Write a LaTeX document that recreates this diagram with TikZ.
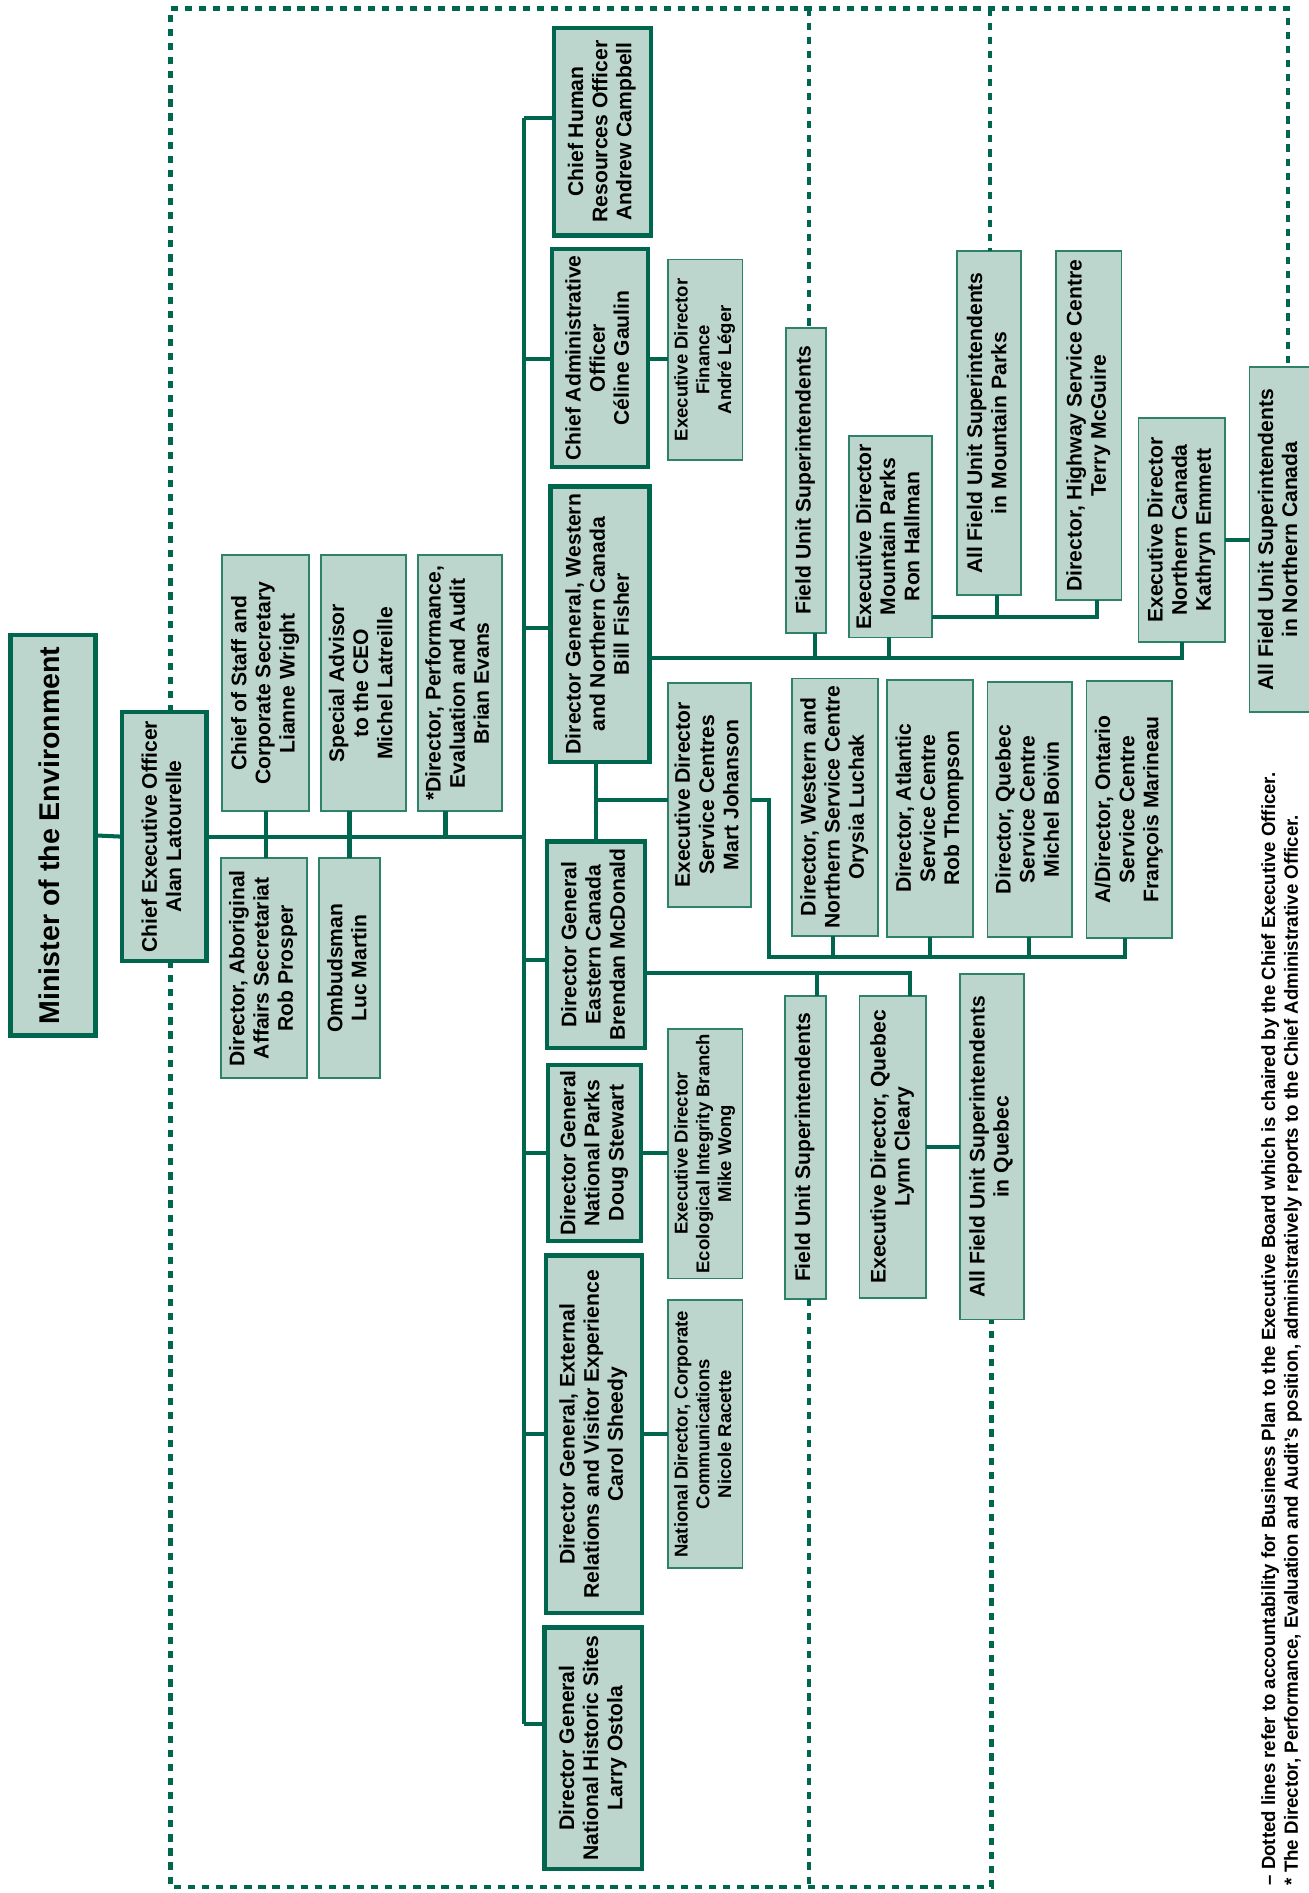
\documentclass[tikz,border=0pt]{standalone}
\usepackage{fontspec}
\setmainfont{Liberation Sans}
\usepackage{graphicx}
\definecolor{pgreen}{RGB}{0,102,77}
\definecolor{pfill}{RGB}{189,214,205}
\definecolor{pthin}{RGB}{46,130,105}
\newcommand{\vt}[1]{\rotatebox{90}{\begin{tabular}{@{}c@{}}#1\end{tabular}}}
\newcommand{\bx}[7]{\node[#2, minimum width={(#5-#3)*0.6pt}, minimum height={(#6-#4)*0.6pt}] (#1) at ({(#3+#5)/2},{(#4+#6)/2}) {\vt{#7}};}
\tikzset{
  boxbase/.style={draw=pgreen, fill=pfill, inner sep=0pt, outer sep=0pt, font=\fontsize{10.5}{12}\selectfont\bfseries},
  thickb/.style={boxbase, line width=2.1pt},
  thinb/.style={boxbase, draw=pthin, line width=0.9pt},
  smallb/.style={thinb, font=\fontsize{9.2}{10.8}\selectfont\bfseries},
  bigb/.style={thickb, line width=2.4pt, font=\fontsize{14.2}{16}\selectfont\bfseries},
  conn/.style={draw=pgreen, line width=2pt, line join=miter},
  dotl/.style={draw=pgreen, line width=2.3pt, dash pattern=on 3.6pt off 3.4pt}
}
\begin{document}
\begin{tikzpicture}[x=0.6pt,y=-0.6pt]
\useasboundingbox (0,0) rectangle (1084,1568);
% boxes
\bx{min}{bigb}{9}{526}{79}{858}{Minister of the Environment}
\bx{ceo}{thickb}{101}{590}{171}{796}{Chief Executive Officer\\Alan Latourelle}
\bx{cos}{thinb}{184}{460}{256}{672}{Chief of Staff and\\Corporate Secretary\\Lianne Wright}
\bx{sa}{thinb}{266}{460}{336}{672}{Special Advisor\\to the CEO\\Michel Latreille}
\bx{dpea}{thinb}{346}{460}{416}{672}{*Director, Performance,\\Evaluation and Audit\\Brian Evans}
\bx{abo}{thinb}{183}{711}{254}{893}{Director, Aboriginal\\Affairs Secretariat\\Rob Prosper}
\bx{omb}{thinb}{264}{711}{315}{893}{Ombudsman\\Luc Martin}
\bx{chro}{thickb}{459}{23}{539}{195}{Chief Human\\Resources Officer\\Andrew Campbell}
\bx{cao}{thickb}{457}{206}{537}{387}{Chief Administrative\\Officer\\Céline Gaulin}
\bx{edf}{smallb}{553}{215}{615}{381}{Executive Director\\Finance\\André Léger}
\bx{dgw}{thickb}{456}{403}{538}{631}{Director General, Western\\and Northern Canada\\Bill Fisher}
\bx{dge}{thickb}{453}{697}{534}{868}{Director General\\Eastern Canada\\Brendan McDonald}
\bx{dgnp}{thickb}{454}{882}{531}{1028}{Director General\\National Parks\\Doug Stewart}
\bx{dger}{thickb}{452}{1040}{532}{1336}{Director General, External\\Relations and Visitor Experience\\Carol Sheedy}
\bx{dgnhs}{thickb}{451}{1348}{532}{1548}{Director General\\National Historic Sites\\Larry Ostola}
\bx{edei}{smallb}{553}{852}{615}{1059}{Executive Director\\Ecological Integrity Branch\\Mike Wong}
\bx{ndcc}{smallb}{553}{1077}{615}{1299}{National Director, Corporate\\Communications\\Nicole Racette}
\bx{edsc}{thinb}{553}{566}{622}{751}{Executive Director\\Service Centres\\Mart Johanson}
\bx{wnsc}{thinb}{656}{562}{727}{775}{Director, Western and\\Northern Service Centre\\Orysia Luchak}
\bx{asc}{thinb}{735}{563}{806}{776}{Director, Atlantic\\Service Centre\\Rob Thompson}
\bx{qsc}{thinb}{818}{565}{888}{776}{Director, Quebec\\Service Centre\\Michel Boivin}
\bx{osc}{thinb}{900}{564}{971}{777}{A/Director, Ontario\\Service Centre\\François Marineau}
\bx{fusw}{thinb}{651}{272}{684}{524}{Field Unit Superintendents}
\bx{edmp}{thinb}{703}{361}{772}{528}{Executive Director\\Mountain Parks\\Ron Hallman}
\bx{fusmp}{thinb}{793}{208}{846}{493}{All Field Unit Superintendents\\in Mountain Parks}
\bx{hsc}{thinb}{875}{208}{929}{497}{Director, Highway Service Centre\\Terry McGuire}
\bx{ednc}{thinb}{943}{346}{1015}{532}{Executive Director\\Northern Canada\\Kathryn Emmett}
\bx{fusnc}{thinb}{1035}{304}{1086}{590}{All Field Unit Superintendents\\in Northern Canada}
\bx{fuse}{thinb}{650}{825}{684}{1076}{Field Unit Superintendents}
\bx{edq}{thinb}{712}{825}{767}{1075}{Executive Director, Quebec\\Lynn Cleary}
\bx{fusq}{thinb}{795}{807}{848}{1093}{All Field Unit Superintendents\\in Quebec}
% CEO level
\draw[conn] (min.east) -- (ceo.west);
\coordinate (trT) at (434,98);
\coordinate (trB) at (434,1428);
\draw[conn] (ceo.east) -- (ceo.east -| trT);
\draw[conn] (trT) -- (trB);
\draw[conn] (cos.south) -- (cos.south |- abo.north);
\draw[conn] (omb.north) -- (omb.north |- sa.south);
\coordinate (jDP) at (369,692);
\draw[conn] (jDP |- dpea.south) -- (jDP);
% trunk branches
\draw[conn] (trT) -- (trT -| chro.west);
\coordinate (bCAO) at (434,297);
\draw[conn] (bCAO) -- (bCAO -| cao.west);
\draw[conn] (bCAO -| cao.east) -- (bCAO -| edf.west);
\coordinate (bDGW) at (434,520);
\draw[conn] (bDGW) -- (bDGW -| dgw.west);
\coordinate (bDGE) at (434,795);
\draw[conn] (bDGE) -- (bDGE -| dge.west);
\coordinate (bDGNP) at (434,955);
\draw[conn] (bDGNP) -- (bDGNP -| dgnp.west);
\draw[conn] (bDGNP -| dgnp.east) -- (bDGNP -| edei.west);
\coordinate (bDGER) at (434,1188);
\draw[conn] (bDGER) -- (bDGER -| dger.west);
\draw[conn] (bDGER -| dger.east) -- (bDGER -| ndcc.west);
\draw[conn] (trB) -- (trB -| dgnhs.west);
% western / service centres
\coordinate (jWE) at (494,663);
\draw[conn] (jWE |- dgw.south) -- (jWE |- dge.north);
\draw[conn] (jWE) -- (jWE -| edsc.west);
\coordinate (jSC) at (637,793);
\coordinate (cOS) at (932,793);
\draw[conn] (jWE -| edsc.east) -| (jSC) -- (cOS) -- (cOS |- osc.south);
\coordinate (cWN) at (690,793);
\coordinate (cAT) at (770,793);
\coordinate (cQU) at (852,793);
\draw[conn] (cWN) -- (cWN |- wnsc.south);
\draw[conn] (cAT) -- (cAT |- asc.south);
\draw[conn] (cQU) -- (cQU |- qsc.south);
\coordinate (jW) at (538,545);
\draw[conn] (jW -| dgw.east) -| (ednc.south);
\coordinate (cFW) at (675,545);
\draw[conn] (cFW) -- (cFW |- fusw.south);
\coordinate (cMPk) at (736,545);
\draw[conn] (cMPk) -- (cMPk |- edmp.south);
\coordinate (jMP) at (772,511);
\coordinate (cHS) at (909,511);
\coordinate (cMP) at (826,511);
\draw[conn] (jMP -| edmp.east) -- (cHS) -- (cHS |- hsc.south);
\draw[conn] (cMP) -- (cMP |- fusmp.south);
\coordinate (jNC) at (1015,447);
\draw[conn] (jNC -| ednc.east) -- (jNC -| fusnc.west);
% eastern
\coordinate (jE) at (534,806);
\coordinate (cEQ) at (754,806);
\coordinate (cFE) at (677,806);
\draw[conn] (jE -| dge.east) -- (cEQ) -- (cEQ |- edq.north);
\draw[conn] (cFE) -- (cFE |- fuse.north);
\draw[conn] (edq.east) -- (edq.east -| fusq.west);
% dotted accountability lines
\coordinate (dTL) at (141,7);
\coordinate (dTR) at (1067,7);
\coordinate (dBL) at (141,1563);
\coordinate (dBR) at (821,1563);
\draw[dotl] (dTL |- ceo.north) -- (dTL) -- (dTR) -- (dTR |- fusnc.north);
\draw[dotl] (dBL |- ceo.south) -- (dBL) -- (dBR) -- (dBR |- fusq.south);
\coordinate (dM1) at (670,7);
\draw[dotl] (dM1) -- (dM1 |- fusw.north);
\coordinate (dM1b) at (670,1563);
\draw[dotl] (dM1b |- fuse.south) -- (dM1b);
\coordinate (dM2) at (820,7);
\draw[dotl] (dM2) -- (dM2 |- fusmp.north);
% footnotes
\node[anchor=south, inner sep=0pt] (fn1) at (1052,1562) {\rotatebox{90}{\resizebox{553pt}{\height}{\fontsize{9.5}{11}\selectfont\bfseries – Dotted lines refer to accountability for Business Plan to the Executive Board which is chaired by the Chief Executive Officer.}}};
\node[anchor=south, inner sep=0pt] (fn2) at (1071,1562) {\rotatebox{90}{\resizebox{532pt}{\height}{\fontsize{9.5}{11}\selectfont\bfseries * The Director, Performance, Evaluation and Audit’s position, administratively reports to the Chief Administrative Officer.}}};
\end{tikzpicture}
\end{document}
